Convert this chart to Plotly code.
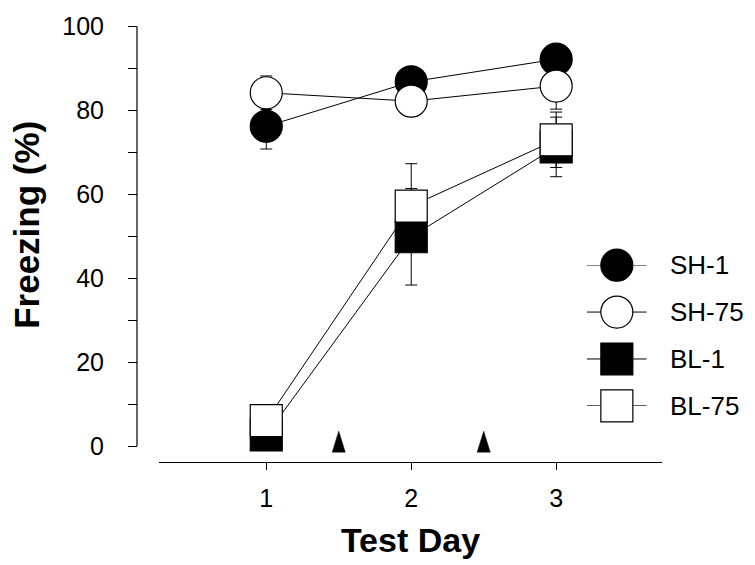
import plotly.graph_objects as go

# ---------------- data ----------------
days = [1, 2, 3]
series_names = ["SH-1", "SH-75", "BL-1", "BL-75"]
sh1 = [76.2, 86.8, 92.2]
sh1_err = [5.4, 3.0, 2.5]
sh75 = [84.2, 82.2, 85.8]
sh75_err = [4.0, 2.5, 5.5]
bl1 = [2.7, 49.9, 71.3]
bl1_err = [2.0, 11.5, 7.1]
bl75 = [6.1, 57.2, 73.0]
bl75_err = [3.0, 10.1, 6.6]
injection_days = [1.5, 2.5]
y_ticks = [0, 20, 40, 60, 80, 100]
x_ticks = [1, 2, 3]

# ---------------- styles ----------------
FONT = "Liberation Sans, Arial, Helvetica, sans-serif"
symbols = ["circle", "circle", "square", "square"]
fills = ["black", "white", "black", "white"]
values = [sh1, sh75, bl1, bl75]
errors = [sh1_err, sh75_err, bl1_err, bl75_err]
MSIZE = 32

fig = go.Figure()

for name, vals, errs, sym, fill in zip(series_names, values, errors, symbols, fills):
    fig.add_trace(go.Scatter(
        x=days, y=vals, name=name, mode="lines+markers",
        line=dict(color="black", width=1),
        marker=dict(symbol=sym, size=MSIZE, color=fill,
                    line=dict(color="black", width=1.2)),
        error_y=dict(type="data", array=errs, visible=True,
                     color="black", thickness=1, width=6),
        cliponaxis=False, showlegend=False, hoverinfo="skip",
    ))

# injection arrowheads (tall narrow triangles) at the injection days
hw, base, apex = 0.045, -1.4, 3.6
tx, ty = [], []
for d in injection_days:
    tx += [d - hw, d, d + hw, d - hw, None]
    ty += [base, apex, base, base, None]
fig.add_trace(go.Scatter(
    x=tx, y=ty, mode="lines", fill="toself", fillcolor="black",
    line=dict(color="black", width=0.5), showlegend=False, hoverinfo="skip",
))

# custom legend drawn on its own small axes
for i, (name, sym, fill) in enumerate(zip(series_names, symbols, fills)):
    fig.add_trace(go.Scatter(
        x=[0, 1, 2], y=[i, i, i], xaxis="x2", yaxis="y2",
        mode="lines+markers",
        line=dict(color="black", width=1),
        marker=dict(symbol=sym, size=MSIZE, color=fill, opacity=[0, 1, 0],
                    line=dict(color="black", width=1.2)),
        cliponaxis=False, showlegend=False, hoverinfo="skip",
    ))
    fig.add_annotation(
        x=2, y=i, xref="x2", yref="y2", text=name, showarrow=False,
        xanchor="left", yanchor="middle", xshift=21,
        font=dict(family=FONT, size=26, color="black"),
    )

# y axis line only spanning 0..100
fig.add_shape(type="line", xref="paper", yref="y",
              x0=0, x1=0, y0=y_ticks[0], y1=y_ticks[-1],
              line=dict(color="black", width=1.2))

# y axis title
fig.add_annotation(
    x=-0.2095, y=0.544, xref="paper", yref="paper", text="Freezing (%)",
    textangle=-90, showarrow=False, xanchor="center", yanchor="middle",
    font=dict(family=FONT, size=35, color="black", weight="bold"),
)

minor_ticks = [(a + b) / 2 for a, b in zip(y_ticks[:-1], y_ticks[1:])]

fig.update_layout(
    width=755, height=565,
    margin=dict(l=137, r=93, t=20, b=102),
    paper_bgcolor="white", plot_bgcolor="white",
    font=dict(family=FONT, color="black"),
    xaxis=dict(
        domain=[0.0419, 1], range=[0.26, 3.73], anchor="y",
        showline=True, linecolor="black", linewidth=1.2,
        ticks="outside", ticklen=7, tickcolor="black", tickwidth=1.2,
        tickvals=x_ticks, ticktext=[str(v) for v in x_ticks],
        tickfont=dict(size=25), ticklabelstandoff=7,
        showgrid=False, zeroline=False,
        title=dict(text="Test Day", font=dict(size=34, weight="bold"), standoff=17),
    ),
    yaxis=dict(
        domain=[0, 1], range=[-3.75, 100.1], anchor="free", position=0,
        showline=False,
        ticks="outside", ticklen=9, tickcolor="black", tickwidth=1.2,
        tickvals=y_ticks, tickfont=dict(size=25), ticklabelstandoff=19,
        minor=dict(tickvals=minor_ticks, ticks="outside", ticklen=9,
                   tickcolor="black", tickwidth=1.2),
        showgrid=False, zeroline=False,
    ),
    xaxis2=dict(domain=[0.857, 0.971], range=[0, 2], anchor="y2", visible=False),
    yaxis2=dict(domain=[0.1287, 0.4515], range=[3, 0], anchor="x2", visible=False),
)

fig.write_html(
    "out.html",
    config={"displayModeBar": False, "staticPlot": True},
    post_script="document.body.style.margin='0';document.body.style.padding='0';",
)
